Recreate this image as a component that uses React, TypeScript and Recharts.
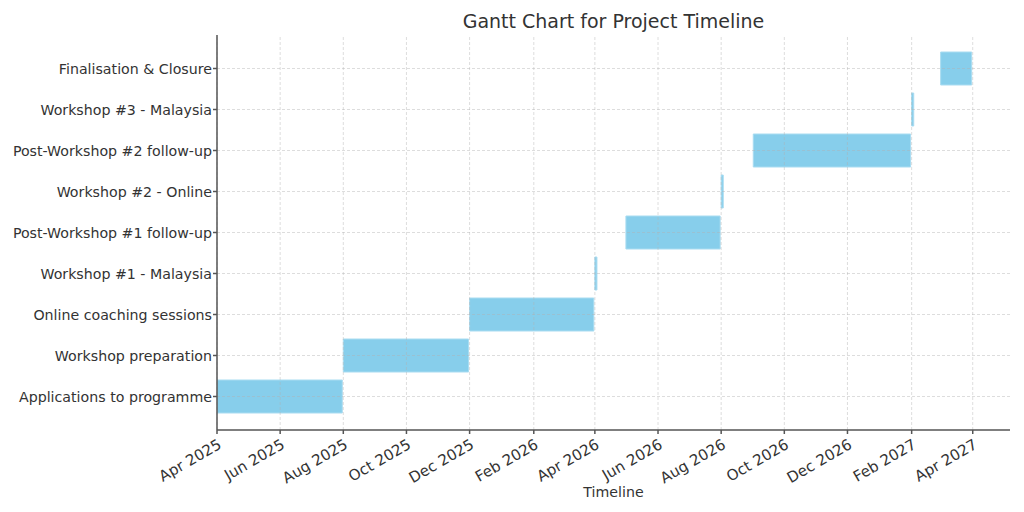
import React from 'react';
import { BarChart, Bar, XAxis, YAxis, ReferenceLine } from 'recharts';

const tasks = [
  'Applications to programme',
  'Workshop preparation',
  'Online coaching sessions',
  'Workshop #1 - Malaysia',
  'Post-Workshop #1 follow-up',
  'Workshop #2 - Online',
  'Post-Workshop #2 follow-up',
  'Workshop #3 - Malaysia',
  'Finalisation & Closure',
];
const startDates = [
  '2025-04-01', '2025-08-01', '2025-12-01', '2026-04-01', '2026-05-01',
  '2026-08-01', '2026-09-01', '2027-02-01', '2027-03-01',
];
const endDates = [
  '2025-07-31', '2025-11-30', '2026-03-31', '2026-04-03', '2026-07-31',
  '2026-08-03', '2027-01-31', '2027-02-03', '2027-03-31',
];
const xTickDates = [
  '2025-04-01', '2025-06-01', '2025-08-01', '2025-10-01', '2025-12-01',
  '2026-02-01', '2026-04-01', '2026-06-01', '2026-08-01', '2026-10-01',
  '2026-12-01', '2027-02-01', '2027-04-01',
];
const xTickLabels = [
  'Apr 2025', 'Jun 2025', 'Aug 2025', 'Oct 2025', 'Dec 2025', 'Feb 2026',
  'Apr 2026', 'Jun 2026', 'Aug 2026', 'Oct 2026', 'Dec 2026', 'Feb 2027', 'Apr 2027',
];
const domainStart = '2025-04-01';
const domainEnd = '2027-05-07';

const ts = (s: string) => Date.parse(s + 'T00:00:00Z');
const data = tasks.map((t, i) => ({ task: t, range: [ts(startDates[i]), ts(endDates[i])] }));
const tickValues = xTickDates.map(ts);
const labelFor = (v: number) => {
  const i = tickValues.indexOf(v);
  return i >= 0 ? xTickLabels[i] : '';
};

const FONT = 'DejaVu Sans, sans-serif';
const TEXT = '#333333';
const AXIS = '#555555';

const XTick = (props: any) => {
  const { x, y, payload } = props;
  return (
    <g transform={`translate(${x},${y + 2})`}>
      <text
        x={0}
        y={0}
        dy={11}
        textAnchor="end"
        transform="rotate(-30)"
        fill={TEXT}
        fontSize={15}
        fontFamily={FONT}
      >
        {labelFor(payload.value)}
      </text>
    </g>
  );
};

export default function App() {
  return (
    <div style={{ position: 'absolute', left: 0, top: 0, width: 1024, height: 512, background: '#fff' }}>
      <div
        style={{
          position: 'absolute',
          left: 217,
          width: 793,
          top: 9,
          textAlign: 'center',
          fontFamily: FONT,
          fontSize: 19,
          color: TEXT,
          lineHeight: '24px',
        }}
      >
        Gantt Chart for Project Timeline
      </div>
      <BarChart
        width={1024}
        height={512}
        data={data}
        layout="vertical"
        margin={{ top: 35, right: 14, left: 0, bottom: 0 }}
        barSize={33}
      >
        <XAxis
          type="number"
          dataKey="range"
          domain={[ts(domainStart), ts(domainEnd)]}
          ticks={tickValues}
          tick={<XTick />}
          interval={0}
          height={82}
          allowDataOverflow
          stroke={AXIS}
          strokeWidth={1.5}
          tickSize={4}
          tickLine={{ stroke: AXIS }}
          label={{ value: 'Timeline', position: 'insideBottom', offset: 15, fill: TEXT, fontSize: 14.2, fontFamily: FONT }}
        />
        <YAxis
          type="category"
          dataKey="task"
          reversed
          width={217}
          padding={{ top: 13, bottom: 13 }}
          stroke={AXIS}
          strokeWidth={1.5}
          tickSize={4}
          tickMargin={1}
          tickLine={{ stroke: AXIS }}
          interval={0}
          tick={{ fill: TEXT, fontSize: 14.2, fontFamily: FONT }}
        />
        <Bar dataKey="range" fill="#87CEEB" stroke="#a9dcf1" strokeWidth={1} isAnimationActive={false} />
        {tickValues.map((v) => (
          <ReferenceLine key={'x' + v} x={v} stroke="#b0b0b0" strokeOpacity={0.55} strokeDasharray="3 2" strokeWidth={0.8} />
        ))}
        {tasks.map((t) => (
          <ReferenceLine key={'y' + t} y={t} stroke="#b0b0b0" strokeOpacity={0.55} strokeDasharray="3 2" strokeWidth={0.8} />
        ))}
      </BarChart>
    </div>
  );
}
